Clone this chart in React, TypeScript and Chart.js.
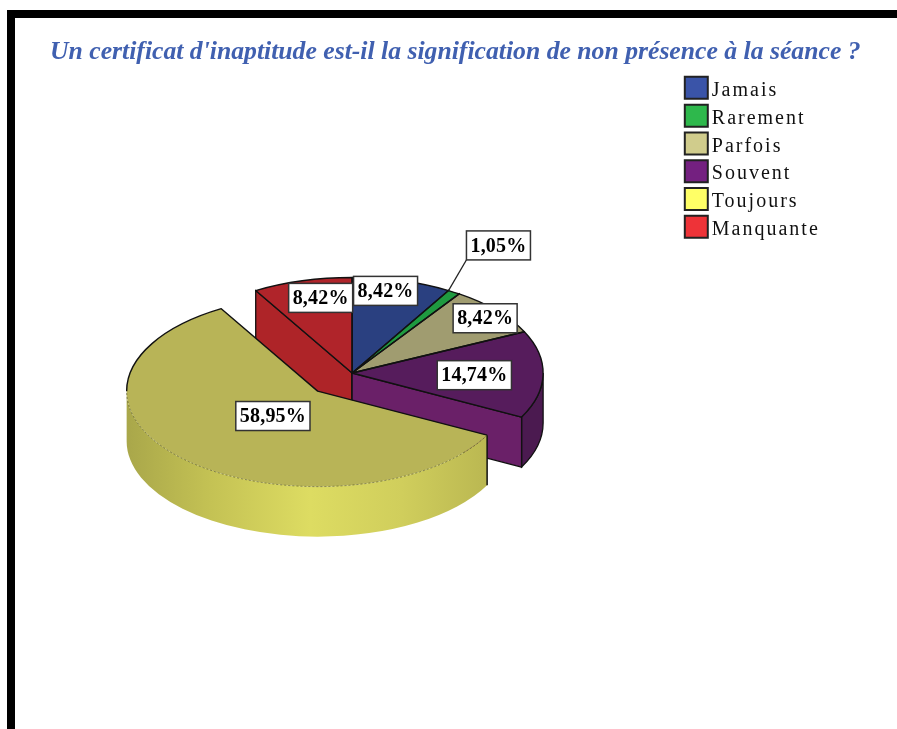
import React, { useEffect, useRef } from "react";
import { Chart, registerables } from "chart.js";

Chart.register(...registerables);

const TITLE = "Un certificat d'inaptitude est-il la signification de non présence à la séance ?";
const categories = ["Jamais", "Rarement", "Parfois", "Souvent", "Toujours", "Manquante"];
const values = [8.42, 1.05, 8.42, 14.74, 58.95, 8.42];
const topColors = ["#2a4080", "#1f9a40", "#a09c70", "#561c5c", "#b8b457", "#b0242a"];
const legendColors = ["#3a54a8", "#2eb84c", "#d0cc8c", "#742080", "#ffff66", "#ee3338"];
const radialWallColors = ["#22356a", "#187c33", "#85825c", "#6a2068", "#a9a64c", "#ae2428"];
const outerWallColors = ["#22356a", "#187c33", "#85825c", "#4b1a50", "#c8c658", "#8c1c22"];
const explode = [0, 0, 0, 0, 50, 0];
const labelNudge = [[-4, -13], [70, -67], [24.5, -8], [-21, 1], [54, -27], [6, -6]];
const wallOrder = [0, 1, 2, 5, 3, 4];

const FLAT = 0.5;
const DEPTH = 50;
const SERIF = "'Liberation Serif', serif";

function geom(el: any, i: number) {
  const mid = (el.startAngle + el.endAngle) / 2;
  const cx = el.x + explode[i] * Math.cos(mid);
  const cy = el.y + explode[i] * Math.sin(mid) * FLAT;
  const r = el.outerRadius;
  const pt = (a: number, rr = r, d = 0) => [cx + rr * Math.cos(a), cy + rr * FLAT * Math.sin(a) + d];
  return { mid, cx, cy, r, pt };
}

function radialWall(ctx: any, g: any, a: number, fill: string, stroke = true) {
  const p = g.pt(a);
  ctx.beginPath();
  ctx.moveTo(g.cx, g.cy);
  ctx.lineTo(p[0], p[1]);
  ctx.lineTo(p[0], p[1] + DEPTH);
  ctx.lineTo(g.cx, g.cy + DEPTH);
  ctx.closePath();
  ctx.fillStyle = fill;
  ctx.fill();
  if (stroke) {
    ctx.lineWidth = 1.3;
    ctx.strokeStyle = "#111";
    ctx.stroke();
  }
}

function outerWall(ctx: any, g: any, a0: number, a1: number, fill: any, stroke: boolean) {
  const s = Math.max(a0, 0);
  const e = Math.min(a1, Math.PI);
  if (e <= s) return;
  ctx.beginPath();
  ctx.ellipse(g.cx, g.cy, g.r, g.r * FLAT, 0, s, e);
  ctx.ellipse(g.cx, g.cy + DEPTH, g.r, g.r * FLAT, 0, e, s, true);
  ctx.closePath();
  ctx.fillStyle = fill;
  ctx.fill();
  if (stroke) {
    ctx.lineWidth = 1.3;
    ctx.strokeStyle = "#111";
    ctx.stroke();
  }
}

const pie3d = {
  id: "pie3d",
  afterLayout(chart: any) {
    // the key block sits apart from the plot, and the title may run past the plot
    chart.legend.left = 679;
    chart.legend.right = 679 + chart.legend.width;
    chart.titleBlock.right = 890;
  },
  beforeDatasetDraw(chart: any) {
    const ctx = chart.ctx;
    const arcs = chart.getDatasetMeta(0).data;
    arcs.forEach((el: any, i: number) => {
      if (el.__flat) return;
      el.__flat = true;
      const base = el.draw;
      el.draw = function (c: any, area: any) {
        const g = geom(this, i);
        c.save();
        c.translate(g.cx, g.cy);
        c.scale(1, FLAT);
        c.translate(-this.x, -this.y);
        base.call(this, c, area);
        c.restore();
      };
    });
    ctx.save();
    wallOrder.forEach((i) => {
      const el = arcs[i];
      const g = geom(el, i);
      const a0 = el.startAngle;
      const a1 = el.endAngle;
      if (i === 4) {
        const grad = ctx.createLinearGradient(g.cx - g.r, 0, g.cx + g.r, 0);
        grad.addColorStop(0, "#a9a74a");
        grad.addColorStop(0.22, "#c4c254");
        grad.addColorStop(0.48, "#dddc62");
        grad.addColorStop(0.72, "#d0ce5c");
        grad.addColorStop(1, "#b5b24f");
        outerWall(ctx, g, a0, a1, grad, false);
        const c = g.pt(a0);
        ctx.beginPath();
        ctx.moveTo(c[0], c[1]);
        ctx.lineTo(c[0], c[1] + DEPTH);
        ctx.lineWidth = 1.5;
        ctx.strokeStyle = "#111";
        ctx.stroke();
      } else {
        radialWall(ctx, g, a0, radialWallColors[i]);
        outerWall(ctx, g, a0, a1, outerWallColors[i], true);
        radialWall(ctx, g, a1, radialWallColors[i]);
      }
    });
    ctx.restore();
  },
  afterDatasetDraw(chart: any) {
    const ctx = chart.ctx;
    const arcs = chart.getDatasetMeta(0).data;
    ctx.save();
    ctx.lineJoin = "round";
    arcs.forEach((el: any, i: number) => {
      const g = geom(el, i);
      ctx.strokeStyle = "#111";
      ctx.lineWidth = 1.4;
      if (i === 4) {
        // front rim is a faint dashed line, back rim is solid
        const backFrom = Math.PI;
        ctx.beginPath();
        ctx.setLineDash([2, 2]);
        ctx.strokeStyle = "rgba(70,70,30,0.55)";
        ctx.lineWidth = 1;
        ctx.ellipse(g.cx, g.cy, g.r, g.r * FLAT, 0, el.startAngle, backFrom);
        ctx.stroke();
        ctx.setLineDash([]);
        ctx.strokeStyle = "#111";
        ctx.lineWidth = 1.4;
        ctx.beginPath();
        ctx.ellipse(g.cx, g.cy, g.r, g.r * FLAT, 0, backFrom, el.endAngle);
        ctx.lineTo(g.cx, g.cy);
        const p = g.pt(el.startAngle);
        ctx.lineTo(p[0], p[1]);
        ctx.stroke();
      } else {
        ctx.beginPath();
        ctx.moveTo(g.cx, g.cy);
        ctx.ellipse(g.cx, g.cy, g.r, g.r * FLAT, 0, el.startAngle, el.endAngle);
        ctx.closePath();
        ctx.stroke();
      }
    });
    ctx.restore();
  },
  afterDraw(chart: any) {
    const ctx = chart.ctx;
    const arcs = chart.getDatasetMeta(0).data;
    ctx.save();
    // key text, close to its swatch
    const legend = chart.legend;
    ctx.font = `20px ${SERIF}`;
    ctx.fillStyle = "#111";
    ctx.textBaseline = "middle";
    ctx.textAlign = "left";
    (ctx as any).letterSpacing = "2px";
    legend.legendItems.forEach((it: any, i: number) => {
      const hb = legend.legendHitBoxes[i];
      ctx.fillText(it.text, legend.left + 5.8 + 23 + 4, hb.top + 14);
    });
    // value labels
    ctx.font = `bold 20px ${SERIF}`;
    (ctx as any).letterSpacing = "0.2px";
    arcs.forEach((el: any, i: number) => {
      const g = geom(el, i);
      const bx = g.cx + g.r * 0.75 * Math.cos(g.mid) + labelNudge[i][0];
      const by = g.cy + g.r * 0.75 * FLAT * Math.sin(g.mid) + labelNudge[i][1];
      const text = values[i].toFixed(2).replace(".", ",") + "%";
      const w = ctx.measureText(text).width + 8;
      const h = 29;
      if (i === 1) {
        const e = g.pt(el.startAngle);
        ctx.beginPath();
        ctx.moveTo(bx - w / 2, by + h / 2);
        ctx.lineTo(e[0], e[1]);
        ctx.strokeStyle = "#222";
        ctx.lineWidth = 1.2;
        ctx.stroke();
      }
      ctx.fillStyle = "#fff";
      ctx.fillRect(bx - w / 2, by - h / 2, w, h);
      ctx.strokeStyle = "#333";
      ctx.lineWidth = 1.5;
      ctx.strokeRect(bx - w / 2, by - h / 2, w, h);
      ctx.fillStyle = "#000";
      ctx.textAlign = "center";
      ctx.fillText(text, bx, by + 1);
    });
    ctx.restore();
  },
};

export default function App() {
  const ref = useRef<HTMLCanvasElement | null>(null);
  useEffect(() => {
    const chart = new Chart(ref.current as HTMLCanvasElement, {
      type: "pie",
      data: {
        labels: categories,
        datasets: [
          {
            data: values,
            backgroundColor: topColors,
            borderWidth: 0,
            clip: false,
          } as any,
        ],
      },
      plugins: [pie3d as any],
      options: {
        responsive: false,
        animation: false,
        events: [],
        radius: 191,
        layout: { padding: { left: 50, right: 109, top: 0, bottom: 54 } },
        plugins: {
          tooltip: { enabled: false },
          title: {
            display: true,
            text: TITLE,
            align: "start",
            color: "#4060b0",
            font: { family: SERIF, size: 25.7, weight: "bold", style: "italic" },
            padding: { top: 37, bottom: 3.2 },
          },
          legend: {
            display: true,
            position: "right",
            align: "start",
            fullSize: false,
            labels: {
              boxWidth: 23,
              boxHeight: 22,
              padding: 5.8,
              font: { family: SERIF, size: 19 },
              generateLabels: () =>
                categories.map((text, i) => ({
                  text,
                  fillStyle: legendColors[i],
                  strokeStyle: "#222",
                  fontColor: "rgba(0,0,0,0)",
                  lineWidth: 2,
                  hidden: false,
                  index: i,
                })),
            },
          },
        },
      } as any,
    });
    return () => chart.destroy();
  }, []);
  return (
    <div style={{ position: "absolute", left: 0, top: 0, width: 897, height: 729, overflow: "hidden", background: "#fff", filter: "blur(0.5px)" }}>
      <div
        style={{
          position: "absolute",
          left: 7,
          top: 10,
          width: 890,
          height: 719,
          boxSizing: "border-box",
          borderTop: "8px solid #000",
          borderLeft: "8px solid #000",
        }}
      />
      <canvas ref={ref} width={897} height={729} style={{ position: "absolute", left: 0, top: 0, width: 897, height: 729 }} />
    </div>
  );
}
